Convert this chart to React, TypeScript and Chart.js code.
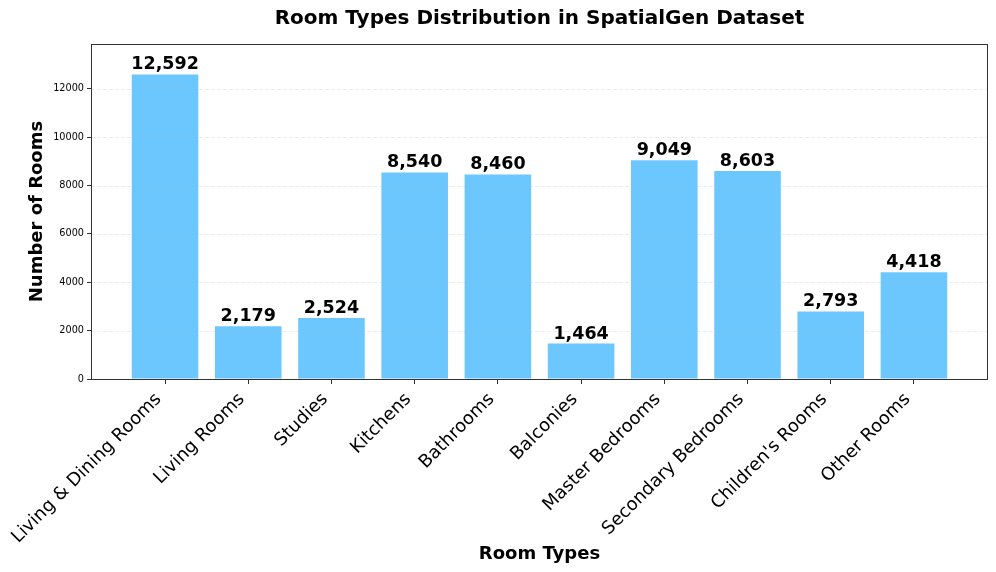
import React, { useEffect, useRef } from "react";
import { Chart, registerables } from "chart.js";

Chart.register(...registerables);

const categories = [
  "Living & Dining Rooms",
  "Living Rooms",
  "Studies",
  "Kitchens",
  "Bathrooms",
  "Balconies",
  "Master Bedrooms",
  "Secondary Bedrooms",
  "Children's Rooms",
  "Other Rooms",
];
const roomCounts = [12592, 2179, 2524, 8540, 8460, 1464, 9049, 8603, 2793, 4418];
const yTicks = [0, 2000, 4000, 6000, 8000, 10000, 12000];
const chartTitle = "Room Types Distribution in SpatialGen Dataset";

const FONT = "'DejaVu Sans', sans-serif";
const fmt = (n: number) => String(n).replace(/\B(?=(\d{3})+(?!\d))/g, ",");

export default function App() {
  const ref = useRef<HTMLCanvasElement | null>(null);
  useEffect(() => {
    const canvas = ref.current;
    if (!canvas) return;
    const yMax = Math.max(...roomCounts) * 1.1;
    const labelPlugin = {
      id: "valueLabels",
      afterDatasetsDraw(chart: any) {
        const ctx = chart.ctx;
        const { chartArea } = chart;
        const yScale = chart.scales.y;
        const xScale = chart.scales.x;
        ctx.save();
        // grid lines above bars (like matplotlib alpha grid)
        ctx.strokeStyle = "rgba(176,176,176,0.3)";
        ctx.lineWidth = 0.8;
        ctx.setLineDash([4, 2]);
        yTicks.forEach((t) => {
          if (t === 0) return;
          const y = Math.round(yScale.getPixelForValue(t)) + 0.5;
          ctx.beginPath();
          ctx.moveTo(chartArea.left, y);
          ctx.lineTo(chartArea.right, y);
          ctx.stroke();
        });
        ctx.setLineDash([]);
        // value labels
        const meta = chart.getDatasetMeta(0);
        ctx.font = `bold 17.5px ${FONT}`;
        ctx.fillStyle = "#000";
        ctx.textAlign = "center";
        ctx.textBaseline = "alphabetic";
        meta.data.forEach((bar: any, i: number) => {
          ctx.fillText(fmt(roomCounts[i]), bar.x, bar.y - 5);
        });
        // rotated category labels (matplotlib style: rotated bbox right/top aligned)
        const fs = 18;
        const h = fs * 1.164;
        const y0 = chartArea.bottom + 9;
        ctx.font = `${fs}px ${FONT}`;
        ctx.textAlign = "right";
        ctx.textBaseline = "bottom";
        categories.forEach((c, i) => {
          const x = xScale.getPixelForValue(i);
          ctx.save();
          ctx.translate(x, y0 + 0.707 * h);
          ctx.rotate(-Math.PI / 4);
          ctx.fillText(c, 0, 0);
          ctx.restore();
        });
        ctx.restore();
      },
      afterDraw(chart: any) {
        const { ctx, chartArea } = chart;
        ctx.save();
        ctx.strokeStyle = "#333";
        ctx.lineWidth = 1;
        ctx.strokeRect(
          Math.round(chartArea.left) + 0.5,
          Math.round(chartArea.top) + 0.5,
          Math.round(chartArea.right - chartArea.left) - 1,
          Math.round(chartArea.bottom - chartArea.top)
        );
        ctx.font = `bold 20px ${FONT}`;
        ctx.fillStyle = "#000";
        ctx.textAlign = "center";
        ctx.textBaseline = "alphabetic";
        ctx.fillText(chartTitle, (chartArea.left + chartArea.right) / 2, 24);
        ctx.restore();
      },
    };
    const chart = new Chart(canvas, {
      type: "bar",
      data: {
        datasets: [
          {
            data: roomCounts.map((v, i) => ({ x: i, y: v })),
            backgroundColor: "rgb(108,199,255)",
            borderWidth: 0,
            barPercentage: 0.8,
            categoryPercentage: 1,
          },
        ],
      },
      options: {
        responsive: false,
        animation: false,
        devicePixelRatio: 1,
        layout: { padding: { left: 0, right: 8, top: 44, bottom: 0 } },
        plugins: {
          legend: { display: false },
          tooltip: { enabled: false },
          title: { display: false },
        },
        scales: {
          x: {
            type: "linear",
            offset: false,
            min: -0.89,
            max: 9.89,
            afterBuildTicks: (scale: any) => {
              scale.ticks = categories.map((_, i) => ({ value: i }));
            },
            afterFit: (scale: any) => {
              scale.height = 193;
            },
            ticks: {
              display: false,
              autoSkip: false,
            },
            grid: {
              display: true,
              offset: false,
              drawOnChartArea: false,
              drawTicks: true,
              tickLength: 5,
              tickColor: "#333",
            },
            border: { display: false },
            title: {
              display: true,
              text: "Room Types",
              color: "#000",
              font: { family: FONT, size: 18, weight: "bold", lineHeight: 1.2 },
              padding: { top: 0, bottom: 7 },
            },
          },
          y: {
            type: "linear",
            min: 0,
            max: yMax,
            afterBuildTicks: (scale: any) => {
              scale.ticks = yTicks.map((v) => ({ value: v }));
            },
            afterFit: (scale: any) => {
              scale.width = 91;
            },
            ticks: {
              padding: 3,
              color: "#000",
              font: { family: FONT, size: 9.7 },
              callback: (v: any) => String(v),
            },
            grid: {
              drawOnChartArea: false,
              drawTicks: true,
              tickLength: 4,
              tickColor: "#333",
              tickWidth: 1,
            },
            border: { display: false },
            title: {
              display: true,
              text: "Number of Rooms",
              color: "#000",
              font: { family: FONT, size: 18, weight: "bold", lineHeight: 1.2 },
              padding: { top: 27, bottom: 0 },
            },
          },
        },
      },
      plugins: [labelPlugin],
    } as any);
    return () => chart.destroy();
  }, []);
  return (
    <div style={{ position: "fixed", left: 0, top: 0, width: 996, height: 572, background: "#fff" }}>
      <canvas ref={ref} width={996} height={572} style={{ display: "block", width: 996, height: 572 }} />
    </div>
  );
}
